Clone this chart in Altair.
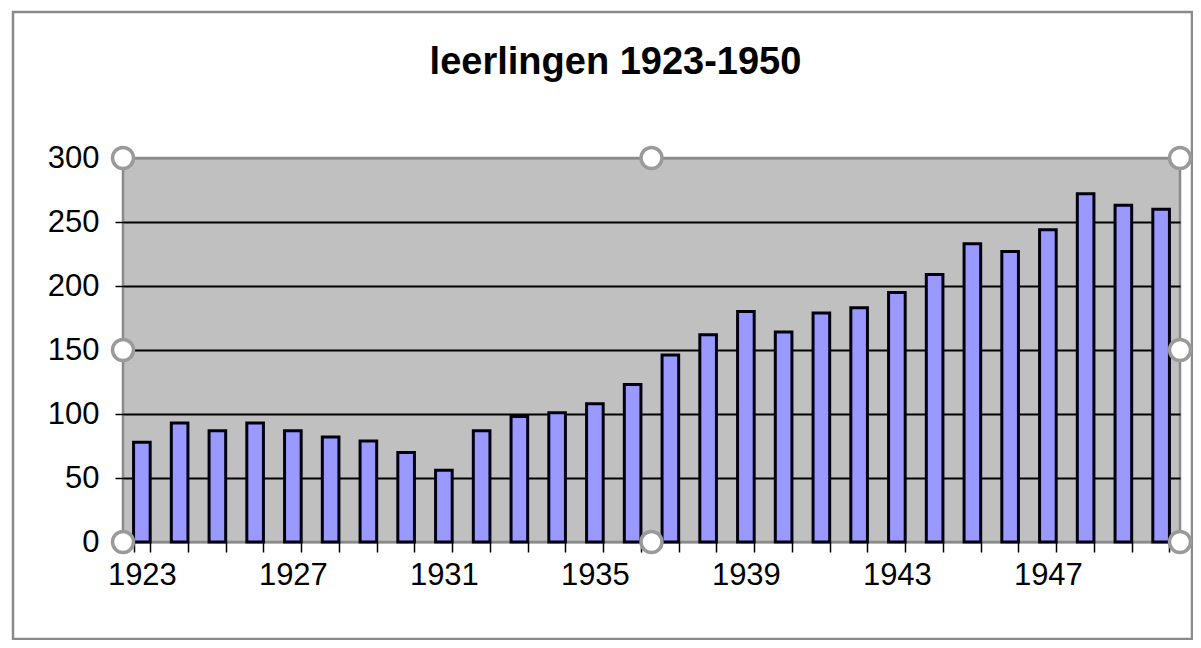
import altair as alt
import pandas as pd

years = list(range(1923, 1951))
leerlingen = [78, 93, 87, 93, 87, 82, 79, 70, 56, 87,
              98, 101, 108, 123, 146, 162, 180, 164, 179, 183,
              195, 209, 233, 227, 244, 272, 263, 260]
y_ticks = [0, 50, 100, 150, 200, 250, 300]
title_text = "leerlingen 1923-1950"

W, H = 1057, 384
FONT = "Liberation Sans"

df = pd.DataFrame({"jaar": years, "leerlingen": leerlingen})

# selection handles around the plot area (decoration)
handles = pd.DataFrame({
    "hx": [0, W / 2, W, 0, W, 0, W / 2, W],
    "hy": [0, 0, 0, H / 2, H / 2, H, H, H],
})
frame = pd.DataFrame({"a": [0]})

bars = alt.Chart(df).mark_bar(
    fill="#9999FF", stroke="#000010", strokeWidth=3
).encode(
    x=alt.X(
        "jaar:O",
        title=None,
        scale=alt.Scale(paddingInner=0.56, paddingOuter=0.28),
        axis=alt.Axis(
            labelAngle=0,
            labelExpr="(datum.value - 1923) % 4 == 0 ? datum.label : ''",
            tickBand="extent",
            tickSize=10,
            tickColor="#000000",
            tickWidth=1.5,
            domain=False,
            labelFont=FONT,
            labelFontSize=31,
            labelColor="#000000",
            labelPadding=8,
            grid=False,
        ),
    ),
    y=alt.Y(
        "leerlingen:Q",
        title=None,
        scale=alt.Scale(domain=[0, 300], nice=False),
        axis=alt.Axis(
            values=y_ticks,
            grid=True,
            gridColor={
                "condition": {"test": "datum.value == 300 || datum.value == 0",
                              "value": "#8a8a8a"},
                "value": "#000000",
            },
            gridWidth=1.8,
            tickSize=8,
            tickColor="#000000",
            tickWidth=1.5,
            domain=False,
            labelFont=FONT,
            labelFontSize=31,
            labelColor="#000000",
            labelPadding=16,
        ),
    ),
)

outer = alt.Chart(frame).mark_rect(
    fill=None, stroke="#8a8a8a", strokeWidth=2.5, clip=False
).encode(
    x=alt.value(-110), x2=alt.value(1069),
    y=alt.value(-146), y2=alt.value(481),
)

dots = alt.Chart(handles).mark_point(
    shape="circle", filled=True, fill="#ffffff", stroke="#9a9a9a",
    strokeWidth=3.5, size=440, opacity=1, clip=False
).encode(
    x=alt.X("hx:Q", scale=None),
    y=alt.Y("hy:Q", scale=None),
)

chart = alt.layer(outer, bars, dots).properties(
    width=W,
    height=H,
    autosize=alt.AutoSizeParams(type="none"),
    padding={"left": 115, "top": 150, "right": 13, "bottom": 98},
    title=alt.TitleParams(
        text=title_text,
        font=FONT,
        fontSize=38,
        fontWeight="bold",
        color="#000000",
        anchor="middle",
        frame="group",
        offset=-71,
        dx=-36,
    ),
).configure(
    background="#ffffff"
).configure_view(
    fill="#C0C0C0", stroke="#8a8a8a", strokeWidth=2.5
)

chart.save("out.html", embed_options={"renderer": "svg", "actions": False})
